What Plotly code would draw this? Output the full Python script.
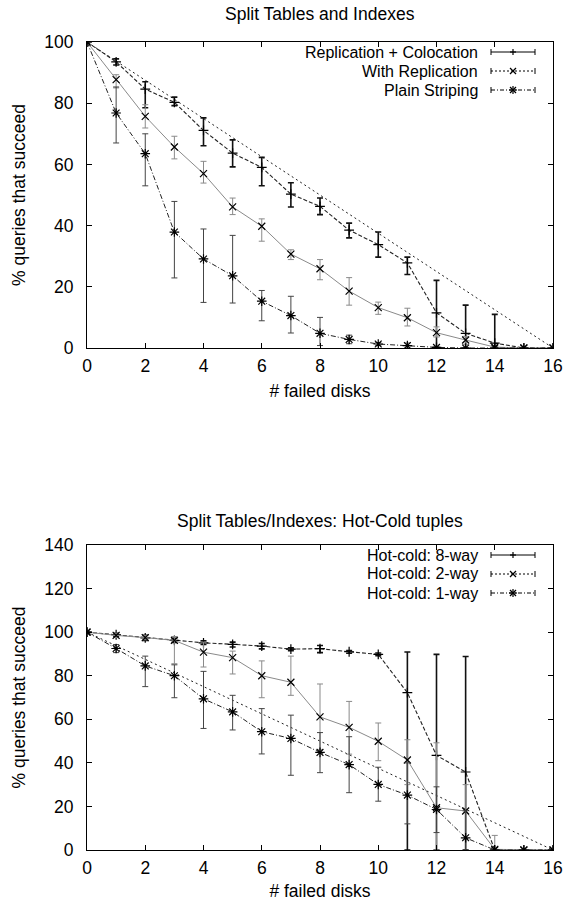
import plotly.graph_objects as go
from plotly.subplots import make_subplots

# ---------------- data ----------------
disks = list(range(17))
x_ticks = [0, 2, 4, 6, 8, 10, 12, 14, 16]

# Top chart: Split Tables and Indexes
repcol = [100, 93.5, 84.6, 80.3, 71.1, 63.7, 59.0, 50.3, 46.3, 38.5, 33.8, 27.8, 11.5, 4.8, 1.6, 0, 0]
repcol_hi = [100, 94.5, 87.0, 82.0, 75.2, 68.0, 62.3, 54.0, 49.0, 40.8, 37.9, 29.7, 22.1, 14.0, 11.0, 0, 0]
repcol_lo = [100, 92.5, 78.5, 79.2, 66.1, 59.2, 53.0, 46.1, 43.6, 36.0, 29.7, 24.0, 0, 0, 0, 0, 0]

withrep = [100, 87.7, 75.7, 65.7, 57.0, 46.1, 39.8, 30.7, 25.9, 18.6, 13.2, 9.9, 5.0, 2.6, 0.3, 0, 0]
withrep_hi = [100, 89.3, 79.5, 69.2, 61.0, 49.0, 42.2, 32.1, 28.9, 23.0, 15.0, 13.0, 6.9, 3.8, 0.5, 0, 0]
withrep_lo = [100, 85.0, 71.9, 61.8, 53.9, 43.6, 34.9, 28.9, 22.3, 14.0, 11.0, 7.2, 3.6, 1.2, 0, 0, 0]

plain = [100, 76.8, 63.5, 37.9, 29.1, 23.6, 15.3, 10.6, 4.8, 2.8, 1.3, 0.8, 0.2, 0, 0, 0, 0]
plain_hi = [100, 85.3, 70.0, 47.9, 38.9, 36.8, 18.8, 16.9, 10.0, 4.2, 1.8, 1.6, 0.4, 0, 0, 0, 0]
plain_lo = [100, 67.0, 53.0, 22.9, 14.9, 14.7, 8.9, 4.9, 0.8, 1.4, 0.8, 0, 0, 0, 0, 0, 0]

ideal_x = [0, 16]
ideal_y = [100, 0]

# Bottom chart: Hot-Cold tuples
way8 = [100, 98.8, 97.4, 96.2, 95.1, 94.4, 93.6, 92.2, 92.4, 91.0, 89.8, 72.2, 43.4, 35.8, 0, 0, 0]
way8_hi = [100, 99.5, 98.5, 97.2, 96.0, 95.4, 94.8, 92.8, 93.9, 91.6, 90.4, 90.9, 89.8, 88.8, 0, 0, 0]
way8_lo = [100, 98.0, 96.2, 95.3, 94.3, 93.2, 92.3, 91.5, 90.6, 90.3, 89.2, 0, 0, 0, 0, 0, 0]

way2 = [100, 98.5, 97.5, 96.2, 90.8, 88.3, 80.0, 77.0, 61.1, 56.3, 49.9, 41.3, 19.4, 17.9, 0.3, 0, 0]
way2_hi = [100, 99.5, 98.5, 98.0, 95.4, 91.3, 86.8, 89.0, 76.2, 68.2, 58.3, 50.6, 49.2, 30.0, 6.7, 0, 0]
way2_lo = [100, 97.5, 96.5, 85.5, 84.0, 80.8, 69.9, 71.0, 46.0, 44.0, 41.0, 30.0, 0, 5.0, 0, 0, 0]

way1 = [100, 92.5, 84.5, 80.0, 69.4, 63.4, 54.3, 51.2, 44.8, 39.2, 30.1, 25.2, 18.6, 5.6, 0, 0, 0]
way1_hi = [100, 94.3, 89.0, 85.0, 82.0, 71.0, 64.9, 61.9, 53.9, 52.0, 38.0, 40.0, 29.0, 18.0, 0, 0, 0]
way1_lo = [100, 90.6, 75.0, 69.9, 55.8, 55.1, 44.1, 34.3, 35.5, 26.3, 22.4, 12.0, 8.0, 0, 0, 0, 0]

top_names = ["Replication + Colocation", "With Replication", "Plain Striping"]
bot_names = ["Hot-cold: 8-way", "Hot-cold: 2-way", "Hot-cold: 1-way"]
top_title = "Split Tables and Indexes"
bot_title = "Split Tables/Indexes: Hot-Cold tuples"
x_title = "# failed disks"
y_title = "% queries that succeed"

# ---------------- layout constants ----------------
W, H = 567, 901
ML, MR, MT, MB = 87, 14, 42, 51
PW, PH = W - ML - MR, H - MT - MB
FONT = "Liberation Sans, Arial, Helvetica, sans-serif"
FS = 17.5
LEG_FS = 16


def px(xp):
    return (xp - ML) / PW


def py(yp):
    return (H - MB - yp) / PH


styles = [
    dict(dash="4px,2px", color="#222", width=1.1, symbol="cross-thin", msize=7, ecol="#111", eth=1.6,
         leg_dash="solid"),
    dict(dash="solid", color="#8a8a8a", width=1.0, symbol="x-thin", msize=7, ecol="#8a8a8a", eth=1.0,
         leg_dash="2px,2px"),
    dict(dash="5px,2px,1px,2px", color="#222", width=1.0, symbol="asterisk", msize=8, ecol="#444", eth=1.0,
         leg_dash="4px,2px,1px,2px"),
]

fig = make_subplots(rows=2, cols=1)


def add_series(row, y, hi, lo, st):
    fig.add_trace(go.Scatter(
        x=disks, y=y, mode="lines+markers",
        line=dict(color=st["color"], width=st["width"], dash=st["dash"]),
        marker=dict(symbol=st["symbol"], size=st["msize"], color="#000",
                    line=dict(color="#000", width=1.2)),
        error_y=dict(type="data", symmetric=False,
                     array=[h - v for h, v in zip(hi, y)],
                     arrayminus=[v - l for v, l in zip(y, lo)],
                     color=st["ecol"], thickness=st["eth"], width=3),
        showlegend=False, cliponaxis=True,
    ), row=row, col=1)


def add_ideal(row):
    fig.add_trace(go.Scatter(
        x=ideal_x, y=ideal_y, mode="lines",
        line=dict(color="#222", width=1.0, dash="2px,3px"),
        showlegend=False,
    ), row=row, col=1)


add_ideal(1)
add_series(1, repcol, repcol_hi, repcol_lo, styles[0])
add_series(1, withrep, withrep_hi, withrep_lo, styles[1])
add_series(1, plain, plain_hi, plain_lo, styles[2])

add_ideal(2)
add_series(2, way8, way8_hi, way8_lo, styles[0])
add_series(2, way2, way2_hi, way2_lo, styles[1])
add_series(2, way1, way1_hi, way1_lo, styles[2])

axis_common = dict(showline=True, linecolor="#000", linewidth=1.2, mirror="ticks",
                   ticks="inside", ticklen=5, tickwidth=1.2, tickcolor="#000",
                   showgrid=False, zeroline=False, automargin=False,
                   tickfont=dict(family=FONT, size=FS, color="#000"))

top_dom = [py(348), py(42)]
bot_dom = [py(850), py(545)]

fig.update_layout(
    width=W, height=H, margin=dict(l=ML, r=MR, t=MT, b=MB),
    paper_bgcolor="white", plot_bgcolor="white",
    font=dict(family=FONT, size=FS, color="#000"),
    showlegend=False,
    xaxis=dict(range=[0, 16], tickvals=x_ticks, domain=[0, 1], anchor="y",
               title=dict(text=x_title, standoff=9, font=dict(size=FS)), ticklabelstandoff=2,
               **axis_common),
    yaxis=dict(range=[0, 100], dtick=20, domain=top_dom, anchor="x",
               title=dict(text=y_title, standoff=14, font=dict(size=FS)), ticklabelstandoff=9,
               **axis_common),
    xaxis2=dict(range=[0, 16], tickvals=x_ticks, domain=[0, 1], anchor="y2",
                title=dict(text=x_title, standoff=9, font=dict(size=FS)), ticklabelstandoff=2,
                **axis_common),
    yaxis2=dict(range=[0, 140], dtick=20, domain=bot_dom, anchor="x2",
                title=dict(text=y_title, standoff=14, font=dict(size=FS)), ticklabelstandoff=9,
                **axis_common),
)

annotations = [
    dict(text=top_title, x=px(320), y=py(14), xref="paper", yref="paper",
         xanchor="center", yanchor="middle", showarrow=False, font=dict(size=FS)),
    dict(text=bot_title, x=px(320), y=py(521), xref="paper", yref="paper",
         xanchor="center", yanchor="middle", showarrow=False, font=dict(size=FS)),
]
shapes = []


def legend(rows_y, names):
    for i, (ry, name) in enumerate(zip(rows_y, names)):
        st = styles[i]
        annotations.append(dict(text=name, x=px(479), y=py(ry), xref="paper", yref="paper",
                                xanchor="right", yanchor="middle", showarrow=False,
                                borderpad=0, font=dict(size=LEG_FS)))
        x0, x1, xm = 491, 535, 513
        shapes.append(dict(type="line", xref="paper", yref="paper",
                           x0=px(x0), x1=px(x1), y0=py(ry), y1=py(ry),
                           line=dict(color="#000", width=1, dash=st["leg_dash"])))
        for xc in (x0, x1):
            shapes.append(dict(type="line", xref="paper", yref="paper",
                               x0=px(xc), x1=px(xc), y0=py(ry - 3), y1=py(ry + 3),
                               line=dict(color="#000", width=1)))
        # marker glyph
        if i == 0:
            segs = [((xm - 3, ry), (xm + 3, ry)), ((xm, ry - 3), (xm, ry + 3))]
        elif i == 1:
            segs = [((xm - 3, ry - 3), (xm + 3, ry + 3)), ((xm - 3, ry + 3), (xm + 3, ry - 3))]
        else:
            segs = [((xm - 3, ry - 3), (xm + 3, ry + 3)), ((xm - 3, ry + 3), (xm + 3, ry - 3)),
                    ((xm - 4, ry), (xm + 4, ry)), ((xm, ry - 4), (xm, ry + 4))]
        for (a, b) in segs:
            shapes.append(dict(type="line", xref="paper", yref="paper",
                               x0=px(a[0]), x1=px(b[0]), y0=py(a[1]), y1=py(b[1]),
                               line=dict(color="#000", width=1.2)))


legend([52, 71, 90], top_names)
legend([555, 574, 593], bot_names)

fig.update_layout(annotations=annotations, shapes=shapes)
fig.write_html("out.html")
